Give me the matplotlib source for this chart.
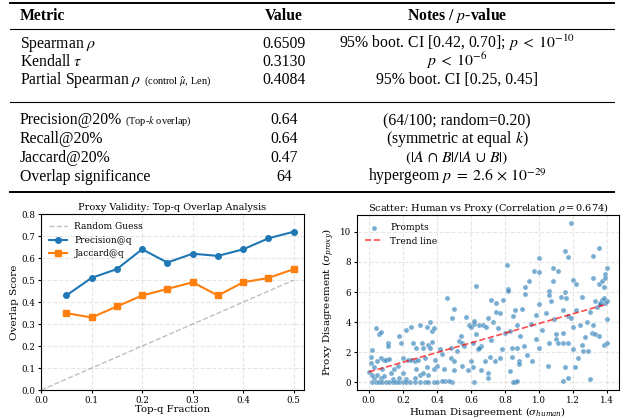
import numpy as np
import matplotlib
matplotlib.use("Agg")
import matplotlib.pyplot as plt

# ---- table content ----
metric_names = ["Spearman $\\rho$", "Kendall $\\tau$", "Partial Spearman $\\rho$",
                "Precision@20%", "Recall@20%", "Jaccard@20%", "Overlap significance"]
metric_small = ["", "", "(control $\\hat{\\mu}$, Len)", "(Top-$k$ overlap)", "", "", ""]
metric_values = ["0.6509", "0.3130", "0.4084", "0.64", "0.64", "0.47", "64"]
metric_notes = ["95% boot. CI [0.42, 0.70]; $p\\;<\\;10^{-10}$",
                "$p\\;<\\;10^{-6}$",
                "95% boot. CI [0.25, 0.45]",
                "(64/100; random=0.20)",
                "(symmetric at equal $k$)",
                "$(|A\\,\\cap\\,B|/|A\\,\\cup\\,B|)$",
                "hypergeom $p\\;=\\;2.6\\,\\times\\,10^{-29}$"]

# ---- top-q overlap ----
top_q = [0.05, 0.10, 0.15, 0.20, 0.25, 0.30, 0.35, 0.40, 0.45, 0.50]
precision_q = [0.43, 0.51, 0.55, 0.64, 0.58, 0.62, 0.61, 0.64, 0.69, 0.72]
jaccard_q = [0.35, 0.33, 0.38, 0.43, 0.46, 0.49, 0.43, 0.49, 0.51, 0.55]

# ---- scatter ----
human_sigma = [
    # 0.0 - 0.2
    0.00, 0.01, 0.01, 0.02, 0.03, 0.04, 0.06, 0.07, 0.05, 0.07, 0.08, 0.09, 0.10, 0.11, 0.11, 0.12,
    0.13, 0.14, 0.15, 0.17, 0.18, 0.19, 0.20, 0.20, 0.18, 0.22, 0.23, 0.22, 0.03, 0.05, 0.07, 0.09, 0.02,
    0.02, 0.04, 0.06, 0.08, 0.10, 0.12, 0.14, 0.16, 0.18, 0.20, 0.22, 0.24,
    # 0.2 - 0.4
    0.25, 0.26, 0.25, 0.27, 0.28, 0.29, 0.30, 0.31, 0.32, 0.33, 0.34, 0.35, 0.36, 0.37, 0.38, 0.37,
    0.36, 0.34, 0.30, 0.27, 0.28, 0.32, 0.35, 0.38, 0.40, 0.39,
    0.27, 0.30, 0.33, 0.35, 0.38, 0.40,
    # 0.4 - 0.6
    0.42, 0.43, 0.44, 0.45, 0.46, 0.48, 0.48, 0.49, 0.50, 0.50, 0.50, 0.49, 0.52, 0.53, 0.54, 0.55,
    0.55, 0.56, 0.57, 0.58, 0.59, 0.60, 0.60, 0.61, 0.61, 0.47, 0.43,
    # 0.6 - 0.8
    0.62, 0.62, 0.63, 0.63, 0.64, 0.65, 0.66, 0.66, 0.67, 0.68, 0.69, 0.70, 0.70, 0.70, 0.71, 0.72,
    0.72, 0.73, 0.74, 0.75, 0.75, 0.76, 0.77, 0.77, 0.78, 0.79, 0.80, 0.62, 0.65,
    # 0.8 - 1.0
    0.81, 0.82, 0.82, 0.83, 0.83, 0.84, 0.84, 0.85, 0.86, 0.86, 0.87, 0.87, 0.88, 0.88, 0.89, 0.90,
    0.91, 0.92, 0.92, 0.93, 0.94, 0.95, 0.96, 0.97, 0.98, 0.98, 1.00, 1.00, 1.00, 1.00, 0.85, 0.87,
    # 1.0 - 1.2
    1.02, 1.04, 1.05, 1.06, 1.06, 1.06, 1.07, 1.08, 1.08, 1.09, 1.10, 1.10, 1.11, 1.11, 1.13, 1.14,
    1.14, 1.14, 1.14, 1.15, 1.15, 1.16, 1.15, 1.17, 1.17, 1.17, 1.17, 1.19, 1.19, 1.20, 1.20, 1.20,
    1.21, 1.22, 1.22, 1.23,
    # 1.2 - 1.4
    1.24, 1.25, 1.25, 1.26, 1.27, 1.28, 1.29, 1.30, 1.30, 1.31, 1.32, 1.32, 1.32, 1.33, 1.33, 1.34,
    1.35, 1.35, 1.35, 1.36, 1.37, 1.37, 1.38, 1.38, 1.39, 1.39, 1.39, 1.40, 1.40, 1.40, 1.40, 1.38, 1.36,
]
proxy_sigma = [
    # 0.0 - 0.2
    0.70, 1.30, 1.65, 2.15, 1.00, 3.60, 3.20, 3.35, 1.40, 1.60, 0.90, 1.50, 1.50, 2.60, 2.40, 1.55,
    0.60, 0.20, 0.90, 1.10, 3.10, 2.60, 1.60, 0.60, 0.30, 3.50, 1.50, 0.20, 0.30, 0.50, 0.30, 0.40, 0.50,
    0, 0, 0, 0, 0, 0, 0, 0, 0, 0, 0, 0,
    # 0.2 - 0.4
    3.65, 2.60, 1.50, 1.40, 2.30, 1.50, 3.80, 2.60, 2.30, 1.60, 3.70, 2.50, 4.00, 3.40, 3.60, 2.70,
    2.30, 1.00, 0.50, 0.30, 0.90, 0.60, 0.50, 0.90, 1.10, 1.50,
    0, 0, 0, 0, 0, 0,
    # 0.4 - 0.6
    2.20, 1.90, 0.90, 0.10, 5.60, 2.30, 1.60, 4.30, 4.85, 1.40, 0.80, 0.00, 2.10, 2.75, 3.10, 2.60,
    1.10, 2.40, 4.35, 0.80, 3.80, 3.70, 1.40, 1.00, 2.60, 0.10, 0.10,
    # 0.6 - 0.8
    3.90, 4.10, 6.40, 3.20, 2.20, 3.80, 2.40, 0.80, 3.80, 1.40, 3.70, 4.30, 0.60, 0.30, 1.70, 5.50,
    2.80, 4.00, 1.40, 5.30, 4.70, 3.60, 4.60, 1.60, 2.20, 5.50, 3.30, 0.00, 2.30,
    # 0.8 - 1.0
    7.80, 6.20, 6.10, 3.40, 0.75, 2.30, 1.70, 4.40, 4.80, 0.00, 3.80, 2.30, 1.40, 1.20, 3.10, 4.90,
    2.40, 6.30, 5.90, 1.80, 6.70, 3.90, 1.40, 7.40, 4.50, 2.90, 8.25, 5.20, 7.30, 2.30, 0.00, 0.05,
    # 1.0 - 1.2
    3.50, 4.60, 1.05, 6.10, 5.80, 2.60, 5.40, 7.60, 6.75, 4.20, 3.20, 2.90, 7.40, 2.60, 5.70, 4.80,
    3.30, 2.60, 0.10, 8.70, 6.00, 5.60, 1.00, 8.30, 4.40, 2.60, 0.30, 10.60, 4.30, 6.80, 3.70, 2.20,
    1.00, 6.50, 4.80, 1.60,
    # 1.2 - 1.4
    3.80, 5.70, 2.50, 2.10, 3.00, 4.00, 2.10, 0.20, 4.70, 3.30, 8.40, 6.90, 3.80, 5.40, 3.20, 5.00,
    8.90, 6.50, 3.10, 5.30, 6.70, 5.50, 6.30, 2.50, 7.20, 6.90, 5.30, 7.60, 5.40, 4.20, 2.60, 5.60, 5.20,
]

human = np.array(human_sigma)
proxy = np.array(proxy_sigma)

plt.rcParams['font.family'] = 'DejaVu Serif'
plt.rcParams['mathtext.fontset'] = 'dejavuserif'

fig = plt.figure(figsize=(6.24, 4.19), dpi=100)

# ---------- table (pixel coords) ----------
tab = fig.add_axes([0, 0, 1, 1])
tab.set_xlim(0, 624)
tab.set_ylim(419, 0)
tab.axis('off')

tfont = dict(family='Liberation Serif', math_fontfamily='stix', fontsize=11.3)
x_metric, x_value, x_notes = 20, 284, 457
row_y = [48, 66, 84, 124, 143, 162, 181]

tab.text(x_metric, 20, "Metric", ha='left', va='baseline', fontweight='bold', **tfont)
tab.text(x_value, 20, "Value", ha='center', va='baseline', fontweight='bold', **tfont)
tab.text(x_notes, 20, "Notes / $p$-value", ha='center', va='baseline', fontweight='bold', **tfont)

main_texts = []
for i, y in enumerate(row_y):
    t = tab.text(x_metric, y, metric_names[i], ha='left', va='baseline', **tfont)
    main_texts.append(t)
    tab.text(x_value, y, metric_values[i], ha='center', va='baseline', **tfont)
    tab.text(x_notes, y, metric_notes[i], ha='center', va='baseline', **tfont)

tab.plot([10, 614], [3.5, 3.5], color='black', lw=1.4)
tab.plot([10, 614], [29.5, 29.5], color='black', lw=0.8)
tab.plot([10, 614], [102.5, 102.5], color='black', lw=0.8)
tab.plot([10, 614], [192, 192], color='black', lw=1.4)

# ---------- left: top-q overlap ----------
ax1 = fig.add_axes([0.0657, 0.069, 0.4213, 0.420])
ax1.plot([0, 0.5], [0, 0.5], '--', color='gray', alpha=0.5, lw=1, label='Random Guess')
ax1.plot(top_q, precision_q, '-o', color='#1f77b4', lw=1.5, ms=4, label='Precision@q')
ax1.plot(top_q, jaccard_q, '-s', color='#ff7f0e', lw=1.5, ms=4, label='Jaccard@q')
ax1.set_xlim(0, 0.52)
ax1.set_ylim(0, 0.8)
ax1.set_title("Proxy Validity: Top-q Overlap Analysis", fontsize=7, pad=3)
ax1.set_xlabel("Top-q Fraction", fontsize=7.3, labelpad=0.5)
ax1.set_ylabel("Overlap Score", fontsize=7.5, labelpad=2)
ax1.tick_params(labelsize=6.2, length=2.5, pad=1.5)
ax1.grid(True, linestyle='--', alpha=0.3)
ax1.legend(loc='upper left', fontsize=6.5, frameon=False)

# ---------- right: scatter ----------
ax2 = fig.add_axes([0.572, 0.069, 0.42, 0.418])
ax2.scatter(human, proxy, s=14, color='#1f77b4', alpha=0.6, edgecolors='white', linewidths=0.4,
            label='Prompts')
slope, intercept = np.polyfit(human, proxy, 1)
xs = np.array([human.min(), human.max()])
ax2.plot(xs, slope * xs + intercept, '--', color='red', alpha=0.7, lw=1.2, label='Trend line')
ax2.set_title("Scatter: Human vs Proxy (Correlation $\\rho = 0.674$)", fontsize=7, pad=3)
ax2.set_xlabel("Human Disagreement ($\\sigma_{human}$)", fontsize=7.3, labelpad=0.5)
ax2.set_ylabel("Proxy Disagreement ($\\sigma_{proxy}$)", fontsize=7.5, labelpad=2)
ax2.tick_params(labelsize=6.2, length=2.5, pad=1.5)
ax2.grid(True, linestyle='--', alpha=0.3)
ax2.legend(loc='upper left', fontsize=6.5, frameon=False)

# small parenthetical text after metric names
fig.canvas.draw()
inv = tab.transData.inverted()
for i, t in enumerate(main_texts):
    if metric_small[i]:
        bb = t.get_window_extent()
        x1 = inv.transform((bb.x1, bb.y0))[0]
        tab.text(x1 + 3, row_y[i], metric_small[i], ha='left', va='baseline',
                 family='Liberation Serif', math_fontfamily='stix', fontsize=7.5)

fig.savefig("out.png", dpi=100)
